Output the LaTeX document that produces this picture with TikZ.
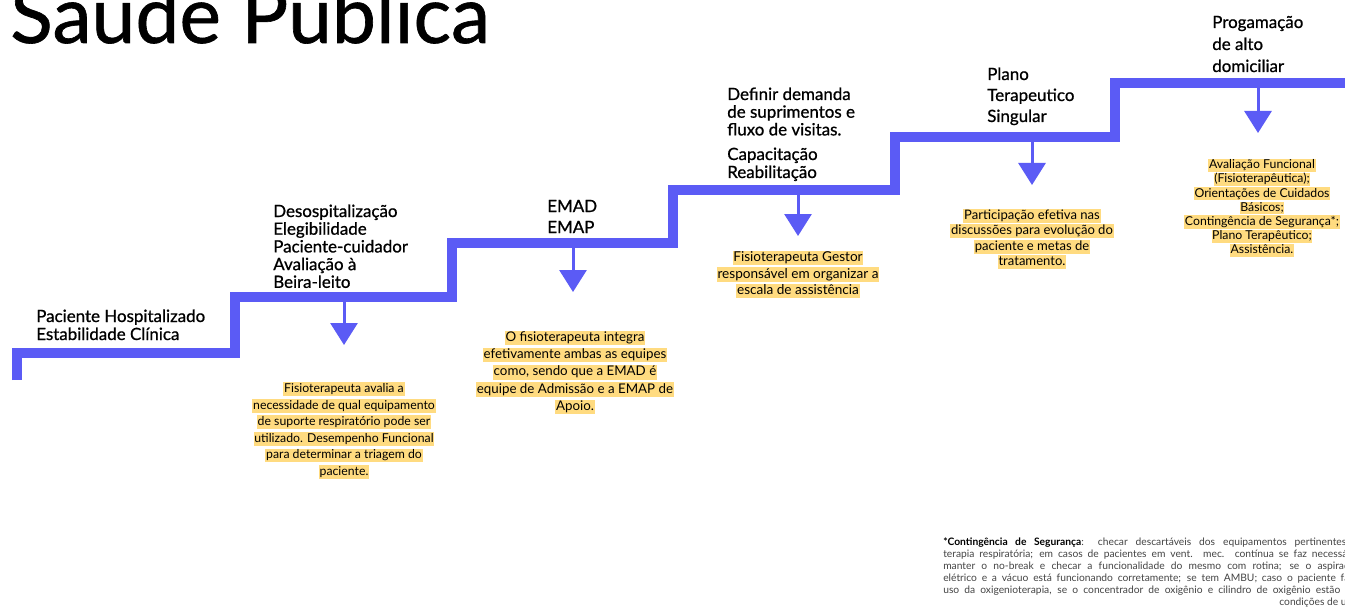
\documentclass[tikz,border=0pt]{standalone}
\usepackage{fontspec}
\setmainfont{Lato}
\newfontfamily\medfont{Lato}[FakeBold=0.8]
\usetikzlibrary{arrows.meta}
\definecolor{stair}{HTML}{5B5BF5}
\definecolor{hly}{HTML}{FFDB80}
\definecolor{fngray}{HTML}{444444}
\newcommand{\hlt}[1]{{\setlength{\fboxsep}{0.6pt}\colorbox{hly}{\vrule height 7pt depth 2.1pt width 0pt\relax #1}}}
\newcommand{\hls}[1]{{\setlength{\fboxsep}{0.5pt}\colorbox{hly}{\vrule height 6.6pt depth 1.9pt width 0pt\relax #1}}}
\newcommand{\llines}[1]{\begin{tabular}[t]{@{}l@{}}#1\end{tabular}}
\newcommand{\clines}[1]{\begin{tabular}[t]{@{}c@{}}#1\end{tabular}}
\newcommand{\jline}[1]{\makebox[312pt][s]{#1}}
\begin{document}
\begin{tikzpicture}[x=0.75pt,y=-0.75pt,
  stairline/.style={draw=stair, line width=7.5pt, line join=miter},
  arr/.style={draw=stair, line width=2.25pt, -{Triangle[width=20.25pt,length=16.5pt]}},
  lbl/.style={anchor=base west, inner sep=0pt, font=\medfont\fontsize{12.7}{#1}\selectfont},
  hlnode/.style={anchor=base, inner sep=0pt},
  fnote/.style={anchor=base west, inner sep=0pt, text=fngray, font=\fontsize{7.7}{9}\selectfont}]
\useasboundingbox (0,0) rectangle (1345,613);
\fill[white] (0,0) rectangle (1345,613);
\clip (0,0) rectangle (1345,613);

% title
\node[anchor=base west, inner sep=0pt, font=\medfont\fontsize{59}{62}\selectfont] (title) at (10,43) {Saúde Pública};

% staircase
\coordinate (s0) at (17,380);
\coordinate (s1) at (17,353);
\coordinate (s2) at (235,353);
\coordinate (s3) at (235,297);
\coordinate (s4) at (452,297);
\coordinate (s5) at (452,243);
\coordinate (s6) at (673,243);
\coordinate (s7) at (673,190);
\coordinate (s8) at (895,190);
\coordinate (s9) at (895,137);
\coordinate (s10) at (1115,137);
\coordinate (s11) at (1115,83);
\coordinate (s12) at (1355,83);
\draw[stairline] (s0) -- (s1) -- (s2) -- (s3) -- (s4) -- (s5) -- (s6) -- (s7) -- (s8) -- (s9) -- (s10) -- (s11) -- (s12);

% arrows
\coordinate (a1s) at (344,297);  \coordinate (a1e) at (344,345);
\coordinate (a2s) at (573,243);  \coordinate (a2e) at (573,292);
\coordinate (a3s) at (798,190);  \coordinate (a3e) at (798,236);
\coordinate (a4s) at (1032,137); \coordinate (a4e) at (1032,185);
\coordinate (a5s) at (1258,83);  \coordinate (a5e) at (1258,133);
\draw[arr] (a1s) -- (a1e);
\draw[arr] (a2s) -- (a2e);
\draw[arr] (a3s) -- (a3e);
\draw[arr] (a4s) -- (a4e);
\draw[arr] (a5s) -- (a5e);

% step labels
\node[lbl=13.5pt] (l1) at (36,322) {\llines{Paciente Hospitalizado\\Estabilidade Clínica}};
\node[lbl=13.1pt] (l2) at (273,217) {\llines{Desospitalização\\Elegibilidade\\Paciente-cuidador\\Avaliação à\\Beira-leito}};
\node[lbl=15.75pt] (l3) at (547,212) {\llines{EMAD\\EMAP}};
\node[lbl=13.1pt] (l4) at (727,100) {\llines{Definir demanda\\de suprimentos e\\fluxo de visitas.}};
\node[lbl=13.5pt] (l4b) at (727,160) {\llines{Capacitação\\Reabilitação}};
\node[lbl=15.75pt] (l5) at (987,80) {\llines{Plano\\Terapeutico\\Singular}};
\node[lbl=16.5pt] (l6) at (1212,28) {\llines{Progamação\\de alto\\domiciliar}};

% highlighted notes
\node[hlnode, font=\fontsize{9.2}{12.4pt}\selectfont] (h1) at (344,392.5) {\clines{\hlt{Fisioterapeuta avalia a}\\\hlt{necessidade de qual equipamento}\\\hlt{de suporte respiratório pode ser}\\\hlt{utilizado. Desempenho Funcional}\\\hlt{para determinar a triagem do}\\\hlt{paciente.}}};
\node[hlnode, font=\fontsize{10}{12.9pt}\selectfont] (h2) at (575,341.5) {\clines{\hlt{O fisioterapeuta integra}\\\hlt{efetivamente ambas as equipes}\\\hlt{como, sendo que a EMAD é}\\\hlt{equipe de Admissão e a EMAP de}\\\hlt{Apoio.}}};
\node[hlnode, font=\fontsize{10.2}{12.4pt}\selectfont] (h3) at (798,261.5) {\clines{\hlt{Fisioterapeuta Gestor}\\\hlt{responsável em organizar a}\\\hlt{escala de assistência}}};
\node[hlnode, font=\fontsize{9.8}{11.5pt}\selectfont] (h4) at (1032,219.5) {\clines{\hlt{Participação efetiva nas}\\\hlt{discussões para evolução do}\\\hlt{paciente e metas de}\\\hlt{tratamento.}}};
\node[hlnode, font=\fontsize{9.2}{10.6pt}\selectfont] (h5) at (1262,168.5) {\clines{\hls{Avaliação Funcional}\\\hls{(Fisioterapêutica);}\\\hls{Orientações de Cuidados}\\\hls{Básicos;}\\\hls{Contingência de Segurança*;}\\\hls{Plano Terapêutico;}\\\hls{Assistência.}}};

% footnote
\node[fnote] (fn) at (943,545) {\llines{\jline{\textcolor{black}{\textbf{*Contingência de Segurança}}: checar descartáveis dos equipamentos pertinentes à}\\
\jline{terapia respiratória; em casos de pacientes em vent. mec. contínua se faz necessário}\\
\jline{manter o no-break e checar a funcionalidade do mesmo com rotina; se o aspirador}\\
\jline{elétrico e a vácuo está funcionando corretamente; se tem AMBU; caso o paciente faça}\\
\jline{uso da oxigenioterapia, se o concentrador de oxigênio e cilindro de oxigênio estão em}\\
\makebox[312pt][r]{condições de uso.}}};
\end{tikzpicture}
\end{document}
